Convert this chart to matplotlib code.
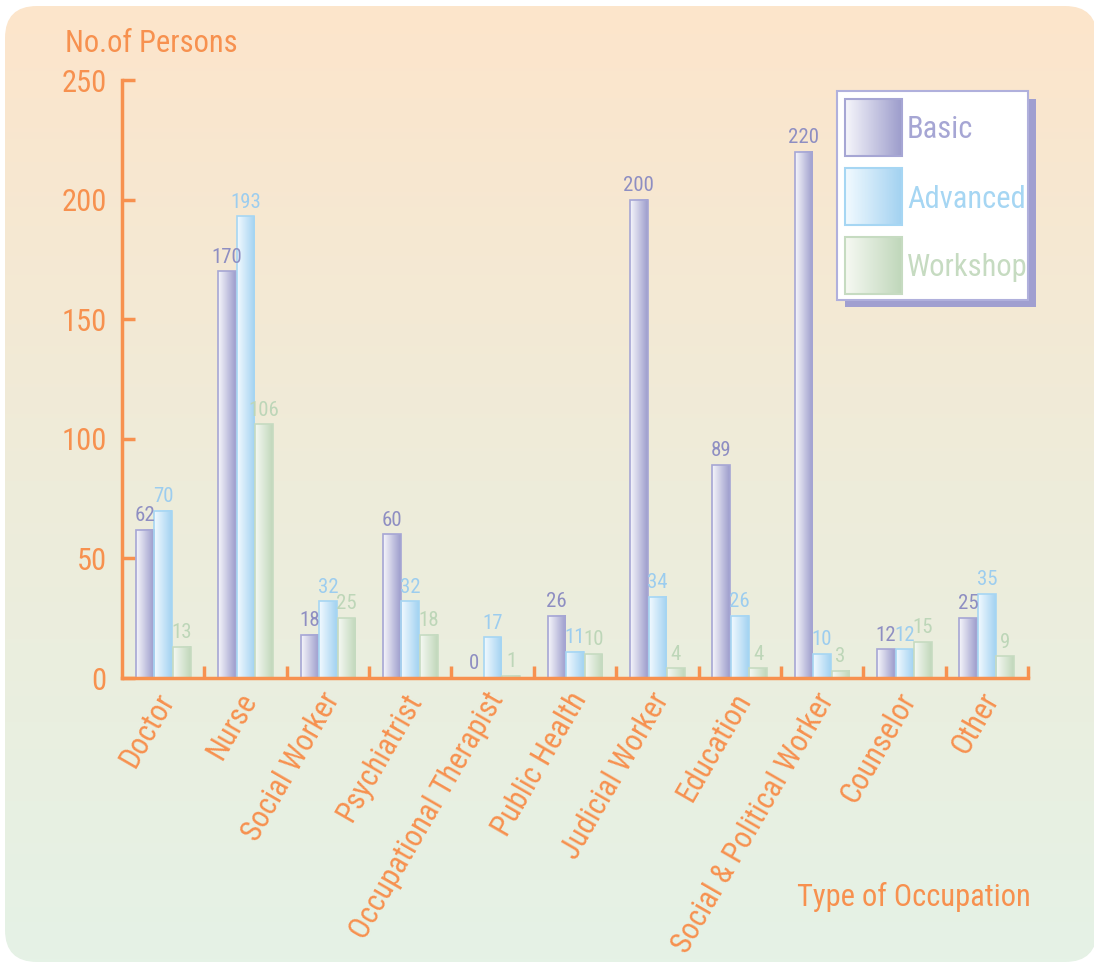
import numpy as np
import matplotlib
matplotlib.use('Agg')
import matplotlib.pyplot as plt
from matplotlib.colors import LinearSegmentedColormap
from matplotlib.patches import Rectangle, FancyBboxPatch
from matplotlib.transforms import ScaledTranslation

plt.rcParams['font.family'] = ['Roboto Condensed', 'Liberation Sans', 'DejaVu Sans']

occupations = ['Doctor', 'Nurse', 'Social Worker', 'Psychiatrist',
               'Occupational Therapist', 'Public Health', 'Judicial Worker',
               'Education', 'Social & Political Worker', 'Counselor', 'Other']
basic = [62, 170, 18, 60, 0, 26, 200, 89, 220, 12, 25]
advanced = [70, 193, 32, 32, 17, 11, 34, 26, 10, 12, 35]
workshop = [13, 106, 25, 18, 1, 10, 4, 4, 3, 15, 9]
series_names = ['Basic', 'Advanced', 'Workshop']
y_ticks = [0, 50, 100, 150, 200, 250]

orange = '#f7914f'
# (light side, dark side, edge, label colour)
styles = [('#f6f6fb', '#9d9dcc', '#a6a6d4', '#8e8ec2'),
          ('#f2faff', '#a3d2f1', '#a6d6f3', '#9ccdef'),
          ('#f6f9f3', '#c0d7ba', '#c6dbc1', '#bdd6b8')]

W, H = 1094, 963
fig = plt.figure(figsize=(W / 100, H / 100), dpi=100)
fig.patch.set_facecolor('white')


def grad_rect(ax, x0, x1, y0, y1, c_left, c_right, edge, z, lw=1.2):
    cmap = LinearSegmentedColormap.from_list('g', [c_left, c_right])
    img = np.linspace(0, 1, 64).reshape(1, -1)
    ax.imshow(img, cmap=cmap, extent=[x0, x1, y0, y1], aspect='auto',
              interpolation='bilinear', zorder=z)
    ax.add_patch(Rectangle((x0, min(y0, y1)), x1 - x0, abs(y1 - y0),
                           fill=False, ec=edge, lw=lw, zorder=z + 0.1))


# background panel with vertical gradient
bg = fig.add_axes([0, 0, 1, 1], zorder=0)
bg.axis('off')
panel = FancyBboxPatch((5, 6), 1092, 956,
                       boxstyle='round,pad=0,rounding_size=32',
                       fc='none', ec='none')
bg.add_patch(panel)
bg_cmap = LinearSegmentedColormap.from_list('bg', ['#fde5cb', '#eeecda', '#e5f2e6'])
grad = np.linspace(0, 1, 256).reshape(-1, 1)
im = bg.imshow(grad, cmap=bg_cmap, extent=[0, W, H, 0], aspect='auto')
im.set_clip_path(panel)
bg.set_xlim(0, W)
bg.set_ylim(H, 0)

# main chart
ax = fig.add_axes([122 / W, 1 - 678 / H, (1028 - 122) / W, (678 - 80) / H], zorder=1)
ax.patch.set_alpha(0)

x = np.arange(len(occupations)) + 0.5
step = 0.225
bw = 0.215
for k, vals in enumerate([basic, advanced, workshop]):
    cl, cr, ce, ct = styles[k]
    for i, v in enumerate(vals):
        cx = x[i] + (k - 1) * step
        if v > 0:
            grad_rect(ax, cx - bw / 2, cx + bw / 2, 0, v, cl, cr, ce, 2)
        ax.text(cx, v + 2.0, str(v), ha='center', va='bottom', fontsize=15,
                color=ct, zorder=4)

ax.set_xlim(0, len(occupations))
ax.set_ylim(0, 250)
for s in ['top', 'right']:
    ax.spines[s].set_visible(False)
for s in ['left', 'bottom']:
    ax.spines[s].set_color(orange)
    ax.spines[s].set_linewidth(2.5)

ax.set_yticks(y_ticks)
ax.tick_params(axis='y', direction='in', length=9.5, width=2.5, color=orange,
               labelcolor=orange, labelsize=22, pad=11)
ax.set_xticks(x)
ax.set_xticklabels(occupations, rotation=60, ha='right', rotation_mode='anchor')
ax.set_xticks(np.arange(1, len(occupations) + 1), minor=True)
ax.tick_params(axis='x', which='major', length=0, labelcolor=orange,
               labelsize=22, pad=7)
ax.tick_params(axis='x', which='minor', direction='in', length=9, width=2.5,
               color=orange)
shift = ScaledTranslation(-0.08, 0, fig.dpi_scale_trans)
for lab in ax.get_xticklabels():
    lab.set_transform(lab.get_transform() + shift)

fig.text(65 / W, 1 - 44 / H, 'No.of Persons', color=orange, fontsize=22,
         ha='left', va='center')
fig.text(797 / W, 1 - 897 / H, 'Type of Occupation', color=orange, fontsize=22,
         ha='left', va='center')

# legend
lg = fig.add_axes([0, 0, 1, 1], zorder=3)
lg.axis('off')
lg.add_patch(Rectangle((845, 99), 191, 208, fc='#a09fd0', ec='none', zorder=1))
lg.add_patch(Rectangle((837, 91), 191, 209, fc='white', ec='#b0b0dc', lw=1.5, zorder=2))
for k, name in enumerate(series_names):
    cl, cr, ce, ct = styles[k]
    top = 99 + k * 69
    grad_rect(lg, 845, 902, top + 57, top, cl, cr, ce, 3, lw=1.5)
    lg.text(907, top + 31, name, color=ce, fontsize=22, ha='left', va='center', zorder=4)
lg.set_xlim(0, W)
lg.set_ylim(H, 0)

fig.savefig('out.png', dpi=100)
